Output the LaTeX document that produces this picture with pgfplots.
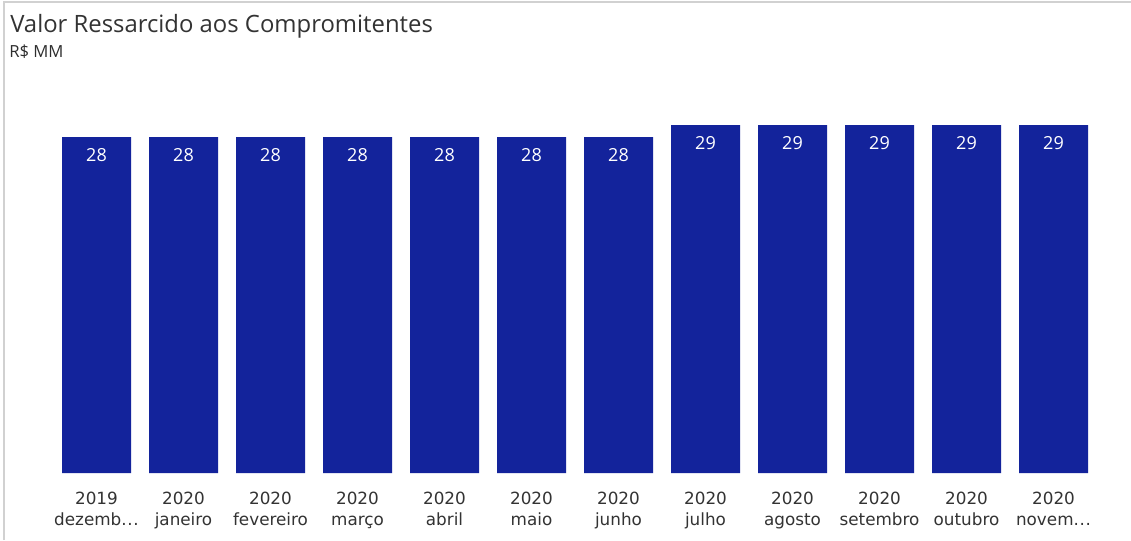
\documentclass[border=0pt]{standalone}
\usepackage{pgfplots}
\pgfplotsset{compat=1.18}
\usepackage{fontspec}
\setmainfont{Open Sans}
\newfontfamily\dejavu{DejaVu Sans}
\definecolor{barblue}{RGB}{19,35,155}
\definecolor{txt}{RGB}{51,51,51}
\newcommand{\dd}{.\kern0.5pt.\kern0.5pt.}
\begin{document}
\begin{tikzpicture}
\begin{scope}[x=0.75pt,y=-0.75pt]
\useasboundingbox (0,0) rectangle (1131,540);
\fill[white] (0,0) rectangle (1131,540);
\draw[black!18,line width=1.5pt] (4,540) -- (4,2) -- (1131,2);
\node[anchor=base west,inner sep=0pt,text=txt,font=\fontsize{17.9}{20}\selectfont] at (10,32) {Valor Ressarcido aos Compromitentes};
\node[anchor=base west,inner sep=0pt,text=txt!90!black,font=\fontsize{12.5}{14}\selectfont] at (9,57) {R\$ MM};
\end{scope}
\begin{axis}[
  at={(39.75pt,-354.75pt)}, anchor=south west,
  scale only axis, width=783pt, height=261pt,
  xmin=-0.5, xmax=11.5, ymin=0, ymax=29,
  axis line style={draw=none},
  major tick length=0pt,
  ytick=\empty,
  ybar, bar width=51.75pt,
  xtick=data,
  xticklabels={{2019\\dezemb\dd},{2020\\janeiro},{2020\\fevereiro},{2020\\março},{2020\\abril},{2020\\maio},{2020\\junho},{2020\\julho},{2020\\agosto},{2020\\setembro},{2020\\outubro},{2020\\novem\dd}},
  xticklabel style={align=center,text=txt,font=\dejavu\fontsize{12.6}{16}\selectfont,anchor=north,yshift=-10.5pt},
  /pgf/number format/assume math mode=true,
  nodes near coords,
  nodes near coords style={anchor=center,yshift=-13.5pt,text=white,font=\fontsize{13.5}{16}\selectfont},
]
\addplot[fill=barblue,draw=none] coordinates {(0,28) (1,28) (2,28) (3,28) (4,28) (5,28) (6,28) (7,29) (8,29) (9,29) (10,29) (11,29)};
\end{axis}
\end{tikzpicture}
\end{document}
